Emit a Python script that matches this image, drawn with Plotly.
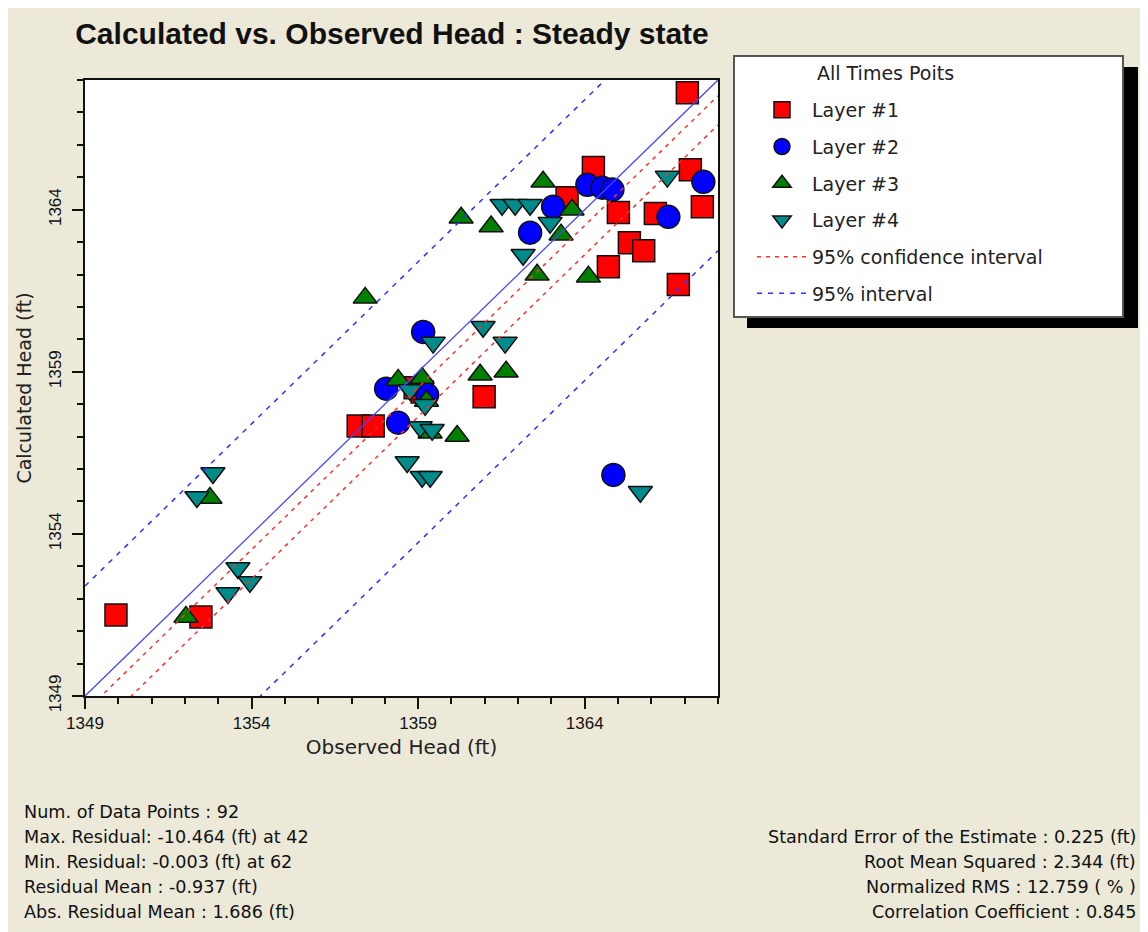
import plotly.graph_objects as go

# ---------------- data ----------------
X_RANGE = [1349, 1368]
Y_RANGE = [1349, 1368]
TICK_VALS = [1349, 1354, 1359, 1364]
TICK_TEXT = ["1349", "1354", "1359", "1364"]

layer1_obs = [1367.08, 1364.26, 1367.17, 1367.53, 1365.01, 1366.12, 1365.34, 1365.77,
              1364.71, 1366.81, 1363.47, 1360.98, 1358.91, 1359.12, 1357.20, 1357.65,
              1349.93, 1352.48]
layer1_calc = [1367.61, 1365.30, 1365.23, 1364.09, 1363.91, 1363.88, 1362.98, 1362.73,
               1362.24, 1361.69, 1364.37, 1358.23, 1358.51, 1358.38, 1357.33, 1357.33,
               1351.50, 1351.44]

layer2_obs = [1364.08, 1364.53, 1364.83, 1367.56, 1366.51, 1363.05, 1362.36, 1359.15,
              1358.04, 1358.40, 1359.27, 1364.86]
layer2_calc = [1364.77, 1364.68, 1364.62, 1364.86, 1363.78, 1364.09, 1363.29, 1360.23,
               1358.48, 1357.43, 1358.29, 1355.82]

layer3_obs = [1357.41, 1362.75, 1363.62, 1360.29, 1361.19, 1363.29, 1362.57, 1364.11,
              1360.86, 1361.64, 1360.17, 1359.36, 1358.40, 1359.12, 1359.25, 1352.75,
              1352.03]
layer3_calc = [1361.28, 1364.86, 1364.00, 1363.75, 1363.48, 1363.23, 1361.99, 1361.93,
               1358.91, 1359.00, 1357.02, 1357.12, 1358.75, 1358.81, 1358.10, 1355.11,
               1351.44]

layer4_obs = [1361.52, 1361.91, 1362.36, 1362.96, 1362.15, 1366.48, 1360.95, 1361.61,
              1359.45, 1352.84, 1352.36, 1353.59, 1353.95, 1353.29, 1365.67, 1358.67,
              1359.12, 1359.36, 1359.06, 1358.76, 1359.21, 1359.42]
layer4_calc = [1364.15, 1364.15, 1364.15, 1363.60, 1362.61, 1365.02, 1360.39, 1359.90,
               1359.90, 1355.88, 1355.14, 1352.95, 1352.52, 1352.18, 1355.30, 1356.22,
               1355.76, 1355.76, 1357.30, 1358.44, 1357.98, 1357.21]

RESIDUAL_MEAN = -0.937
CONF_HALF = 0.45      # 95% confidence interval half width
PRED_HALF = 4.33      # 95% interval half width

stats_left = [
    "Num. of Data Points : 92",
    "Max. Residual: -10.464 (ft) at 42",
    "Min. Residual: -0.003 (ft) at 62",
    "Residual Mean : -0.937 (ft)",
    "Abs. Residual Mean : 1.686 (ft)",
]
stats_right = [
    "Standard Error of the Estimate : 0.225 (ft)",
    "Root Mean Squared : 2.344 (ft)",
    "Normalized RMS : 12.759 ( % )",
    "Correlation Coefficient : 0.845",
]

# ---------------- layout geometry ----------------
OFF = 8                      # page body margin
W, H = 1148 - OFF, 932 - OFF
PL, PR, PT, PB = 85, 718, 80, 696       # plot area in page pixels
PW, PH = PR - PL, PB - PT
ML, MT = PL - OFF, PT - OFF
MR, MB = W - ML - PW, H - MT - PH
FONT = "Liberation Sans, Arial, sans-serif"
WIDE = "DejaVu Sans, Verdana, sans-serif"
BG = "#ECE9D8"


def px_x(p):
    return (p - PL) / PW


def px_y(p):
    return (PB - p) / PH


fig = go.Figure()

layers = [
    ("Layer #1", layer1_obs, layer1_calc, "square", "#FF0000", 22),
    ("Layer #2", layer2_obs, layer2_calc, "circle", "#0000FF", 23),
    ("Layer #3", layer3_obs, layer3_calc, "triangle-up", "#008000", 21),
    ("Layer #4", layer4_obs, layer4_calc, "triangle-down", "#008B8B", 21),
]
for i, (name, xs, ys, sym, col, sz) in enumerate(layers):
    fig.add_trace(go.Scatter(
        x=xs, y=ys, mode="markers", name=name, legendgroup=f"g{i}",
        marker=dict(symbol=sym, color=col, size=sz,
                    line=dict(color="#111111", width=1.5)),
    ))

x0, x1 = X_RANGE
fig.add_trace(go.Scatter(
    x=[x0, x1], y=[x0, x1], mode="lines", showlegend=False,
    line=dict(color="rgb(70,70,255)", width=1.3),
))
lo, hi = RESIDUAL_MEAN - CONF_HALF, RESIDUAL_MEAN + CONF_HALF
fig.add_trace(go.Scatter(
    x=[x0, x1, None, x0, x1], y=[x0 + hi, x1 + hi, None, x0 + lo, x1 + lo],
    mode="lines", name="95% confidence interval", legendgroup="g5",
    line=dict(color="#FF3030", width=1.5, dash="4px,5px"),
))
lo2, hi2 = RESIDUAL_MEAN - PRED_HALF, RESIDUAL_MEAN + PRED_HALF
fig.add_trace(go.Scatter(
    x=[x0, x1, None, x0, x1], y=[x0 + hi2, x1 + hi2, None, x0 + lo2, x1 + lo2],
    mode="lines", name="95% interval", legendgroup="g6",
    line=dict(color="#3030FF", width=1.5, dash="5px,6px"),
))

axis_common = dict(
    showgrid=False, zeroline=False, showline=True, linecolor="#111111",
    linewidth=2, mirror=True, ticks="outside", ticklen=11, tickwidth=1.5,
    tickcolor="#111111", tickvals=TICK_VALS, ticktext=TICK_TEXT,
    tickfont=dict(family=FONT, size=17, color="#111111"),
    minor=dict(dtick=1, tick0=1349, ticks="outside", ticklen=6,
               tickwidth=1.5, tickcolor="#111111"),
)
fig.update_xaxes(range=X_RANGE, **axis_common,
                 title=dict(text="Observed Head (ft)", standoff=8,
                            font=dict(family=WIDE, size=20, color="#222222")))
fig.update_yaxes(range=Y_RANGE, tickangle=-90, ticklabelstandoff=4, **axis_common,
                 title=dict(text="Calculated Head (ft)", standoff=10,
                            font=dict(family=WIDE, size=19, color="#222222")))

shapes = [
    dict(type="rect", xref="paper", yref="paper", layer="above",
         x0=px_x(747), x1=px_x(1138), y0=px_y(328), y1=px_y(67),
         fillcolor="black", line=dict(width=0)),
    dict(type="rect", xref="paper", yref="paper", layer="above",
         x0=px_x(734), x1=px_x(1123), y0=px_y(317), y1=px_y(56),
         fillcolor="white", line=dict(color="#555555", width=2)),
]

annotations = [dict(
    text="All Times Poits", xref="paper", yref="paper", x=px_x(815), y=px_y(73),
    xanchor="left", yanchor="middle", showarrow=False,
    font=dict(family=WIDE, size=19, color="#222222"))]
for k, t in enumerate(stats_left):
    annotations.append(dict(
        text=t, xref="paper", yref="paper", x=px_x(22), y=px_y(812 + 25 * k),
        xanchor="left", yanchor="middle", showarrow=False,
        font=dict(family=WIDE, size=17.6, color="#111111")))
for k, t in enumerate(stats_right):
    annotations.append(dict(
        text=t, xref="paper", yref="paper", x=px_x(1138), y=px_y(837 + 25 * k),
        xanchor="right", yanchor="middle", showarrow=False,
        font=dict(family=WIDE, size=17.6, color="#111111")))

fig.update_layout(
    width=W, height=H,
    margin=dict(l=ML, r=MR, t=MT, b=MB, autoexpand=False),
    paper_bgcolor=BG, plot_bgcolor="white",
    title=dict(text="<b>Calculated vs. Observed Head : Steady state</b>",
               x=(392 - OFF) / W, xanchor="center", y=1 - (33 - OFF) / H,
               yanchor="middle",
               font=dict(family=FONT, size=30, color="#111111")),
    legend=dict(
        x=px_x(752), y=px_y(91), xanchor="left", yanchor="top",
        bgcolor="rgba(0,0,0,0)", borderwidth=0,
        font=dict(family=WIDE, size=19, color="#222222"),
        itemwidth=50, tracegroupgap=9, itemsizing="trace",
    ),
    shapes=shapes,
    annotations=annotations,
)

fig.write_html("out.html")
